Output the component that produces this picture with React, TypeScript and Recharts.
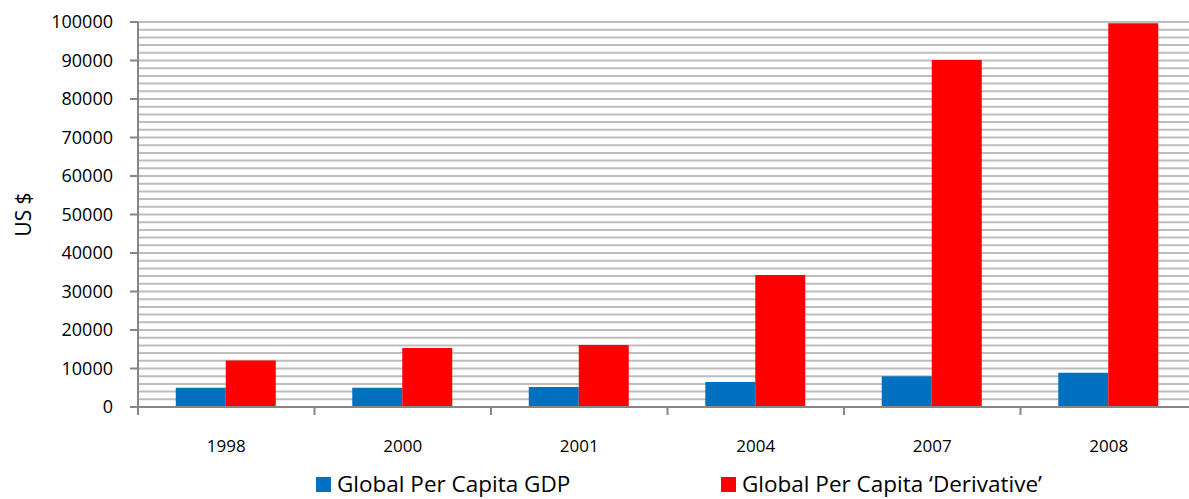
import React from 'react';
import { BarChart, Bar, XAxis, YAxis, CartesianGrid, Legend } from 'recharts';

const years = ['1998', '2000', '2001', '2004', '2007', '2008'];
const gdpPerCapita = [5000, 5000, 5200, 6500, 8000, 8900];
const derivativePerCapita = [12100, 15300, 16100, 34300, 90100, 99700];
const yTicks = [0, 10000, 20000, 30000, 40000, 50000, 60000, 70000, 80000, 90000, 100000];
const gridStep = 2000;

const BLUE = '#0070C0';
const RED = '#FF0000';
const FONT = '"Open Sans", "Noto Sans", sans-serif';

const data = years.map((year, i) => ({
  year,
  gdp: gdpPerCapita[i],
  derivative: derivativePerCapita[i],
}));

const gridValues = Array.from({ length: 100000 / gridStep + 1 }, (_, i) => i * gridStep);

const YearTick = (props: any) => {
  const { x, y, payload, index, visibleTicksCount } = props;
  const half = payload.offset || 0;
  const last = index === visibleTicksCount - 1;
  return (
    <g>
      <line x1={x - half} x2={x - half} y1={y} y2={y + 8} stroke="#868686" strokeWidth={2} />
      {last && <line x1={x + half} x2={x + half} y1={y} y2={y + 8} stroke="#868686" strokeWidth={2} />}
      <text x={x} y={y + 45} textAnchor="middle" fontFamily={FONT} fontSize={17} fill="#000">
        {payload.value}
      </text>
    </g>
  );
};

const AxisTitle = (props: any) => {
  const { viewBox } = props;
  const cx = viewBox.x + 23;
  const cy = viewBox.y + viewBox.height / 2;
  return (
    <text
      x={cx}
      y={cy}
      transform={`rotate(-90 ${cx} ${cy})`}
      textAnchor="middle"
      dominantBaseline="central"
      fontFamily={FONT}
      fontSize={21}
      fill="#000"
    >
      US $
    </text>
  );
};

const legendItems = [
  { label: 'Global Per Capita GDP', color: BLUE, left: 316 },
  { label: 'Global Per Capita \u2018Derivative\u2019', color: RED, left: 721 },
];

const LegendContent = () => (
  <div style={{ position: 'relative', width: 1189, height: 28 }}>
    {legendItems.map((item) => (
      <div
        key={item.label}
        style={{
          position: 'absolute',
          left: item.left,
          top: 0,
          display: 'flex',
          alignItems: 'center',
          whiteSpace: 'nowrap',
          fontFamily: FONT,
          fontSize: 22.5,
          color: '#000',
          lineHeight: '28px',
        }}
      >
        <span style={{ display: 'inline-block', width: 15, height: 15, background: item.color, marginRight: 6 }} />
        {item.label}
      </div>
    ))}
  </div>
);

export default function App() {
  return (
    <div style={{ position: 'absolute', left: 0, top: 0, width: 1189, height: 499, overflow: 'hidden', background: '#fff' }}>
      <BarChart
        width={1197}
        height={499}
        data={data}
        margin={{ top: 22, right: 0, bottom: 0, left: 0 }}
        barGap={0}
        barCategoryGap="21.4%"
      >
        <CartesianGrid
          horizontal
          vertical={false}
          horizontalValues={gridValues}
          stroke="#BDBDBD"
          strokeWidth={2}
        />
        <XAxis
          dataKey="year"
          height={92}
          tickLine={false}
          tickSize={0}
          tickMargin={0}
          axisLine={{ stroke: '#868686', strokeWidth: 2 }}
          tick={<YearTick />}
          interval={0}
        />
        <YAxis
          width={138}
          domain={[0, 100000]}
          ticks={yTicks}
          interval={0}
          tickSize={8}
          tickMargin={17}
          tickLine={{ stroke: '#868686', strokeWidth: 2 }}
          axisLine={{ stroke: '#868686', strokeWidth: 2 }}
          tick={{ fontFamily: FONT, fontSize: 18, fill: '#000' }}
          label={<AxisTitle />}
        />
        <Legend
          layout="horizontal"
          verticalAlign="middle"
          align="center"
          wrapperStyle={{ position: 'absolute', left: 0, top: 470, width: 1189 }}
          content={<LegendContent />}
        />
        <Bar dataKey="gdp" name="Global Per Capita GDP" fill={BLUE} isAnimationActive={false} />
        <Bar dataKey="derivative" name="Global Per Capita 'Derivative'" fill={RED} isAnimationActive={false} />
      </BarChart>
    </div>
  );
}
